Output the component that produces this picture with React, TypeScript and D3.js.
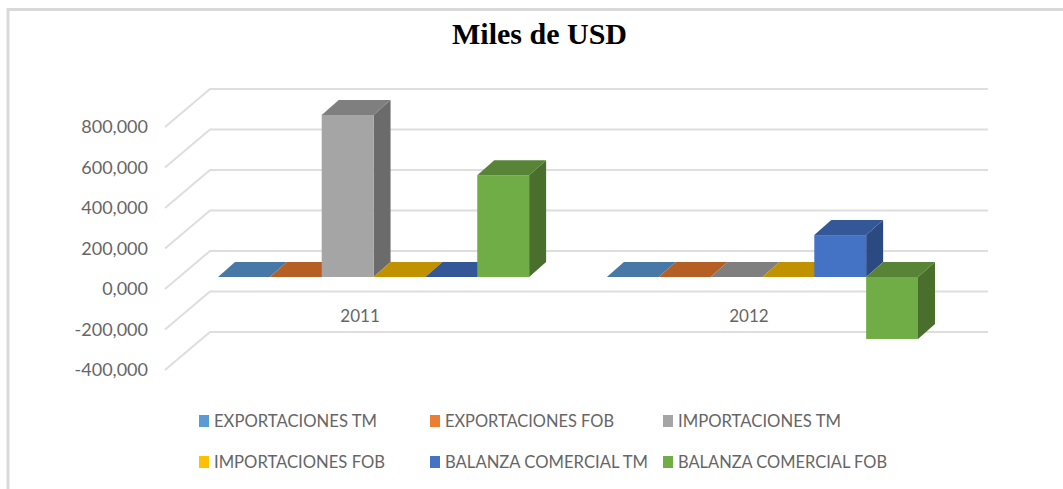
import React from "react";
import * as d3 from "d3";

const categories = ["2011", "2012"];
const seriesNames = [
  "EXPORTACIONES TM",
  "EXPORTACIONES FOB",
  "IMPORTACIONES TM",
  "IMPORTACIONES FOB",
  "BALANZA COMERCIAL TM",
  "BALANZA COMERCIAL FOB",
];
const values2011 = [0, 0, 800, 0, 0, 503];
const values2012 = [0, 0, 0, 0, 207, -306];
const yTicks = [800, 600, 400, 200, 0, -200, -400];
const faceColors = ["#5B9BD5", "#ED7D31", "#A5A5A5", "#FFC000", "#4472C4", "#70AD47"];
const topColors = ["#4878A6", "#B55F24", "#7F7F7F", "#C09200", "#335797", "#578437"];
const sideColors = ["#3E6A94", "#A4541F", "#6B6B6B", "#A67E00", "#2B4A82", "#4A6F2C"];

const W = 1063;
const H = 489;
const wallDx = 45;
const wallDy = -38;
const barDx = 17;
const barDy = -15;
const gridLeft = 165;
const gridRight = 988;
const labelFont = "Lato, 'Open Sans', sans-serif";

const fmt = (v: number) => `${v < 0 ? "-" : ""}${Math.abs(v)},000`;

function poly(pts: [number, number][]) {
  return d3.line()(pts) + "Z";
}

// category blocks across the chart
const xCat = d3.scaleBand().domain(categories).range([218, 918]).paddingInner(0.2);
// front plane of the bars, zero sits at y=277
const yBar = d3.scaleLinear().domain([0, 800]).range([277, 115]);
// front edge of the left wall
const yAxis = d3.scaleLinear().domain([800, -400]).range([127, 370]);

function Bars({ cat, values }: { cat: string; values: number[] }) {
  const start = xCat(cat) as number;
  const x = d3.scaleBand().domain(seriesNames).range([start, start + xCat.bandwidth()]);
  const w = x.bandwidth();
  return (
    <g>
      {values.map((v, i) => {
        const x0 = x(seriesNames[i]) as number;
        const x1 = x0 + w;
        const top = v >= 0 ? yBar(v) : yBar(0);
        const bot = v >= 0 ? yBar(0) : yBar(v);
        return (
          <g key={seriesNames[i]}>
            {bot > top && (
              <path
                d={poly([[x1, top], [x1 + barDx, top + barDy], [x1 + barDx, bot + barDy], [x1, bot]])}
                fill={sideColors[i]}
              />
            )}
            <path
              d={poly([[x0, top], [x0 + barDx, top + barDy], [x1 + barDx, top + barDy], [x1, top]])}
              fill={topColors[i]}
            />
            {bot > top && <rect x={x0} y={top} width={w} height={bot - top} fill={faceColors[i]} />}
          </g>
        );
      })}
    </g>
  );
}

export default function App() {
  const legendRows = d3.range(0, seriesNames.length, 3).map((s) => seriesNames.slice(s, s + 3));
  const legendX = [199, 430, 663];
  const legendText = [
    [163, 169, 163],
    [171, 203, 209],
  ];
  return (
    <svg
      width={W}
      height={H}
      viewBox={`0 0 ${W} ${H}`}
      style={{ position: "absolute", left: 0, top: 0, background: "#fff" }}
    >
      <path d={`M8,${H} V9.5 H${W}`} fill="none" stroke="#D9D9D9" strokeWidth={3} />
      <text
        x={539.5}
        y={44}
        textAnchor="middle"
        fontFamily="'Liberation Serif', serif"
        fontWeight="bold"
        fontSize={30}
        fill="#000"
      >
        Miles de USD
      </text>

      {yTicks.map((t) => {
        const yy = yAxis(t);
        return (
          <g key={t}>
            <path
              d={`M${gridLeft},${yy} L${gridLeft + wallDx},${yy + wallDy} H${gridRight}`}
              fill="none"
              stroke="#DEDEDE"
              strokeWidth={2}
            />
            <text
              x={148}
              y={yy + 6}
              textAnchor="end"
              fontFamily={labelFont}
              fontSize={18}
              fill="#666"
            >
              {fmt(t)}
            </text>
          </g>
        );
      })}

      <Bars cat="2011" values={values2011} />
      <Bars cat="2012" values={values2012} />

      {categories.map((c) => (
        <text
          key={c}
          x={(xCat(c) as number) + xCat.bandwidth() / 2 - 13.5}
          y={322}
          textAnchor="middle"
          fontFamily={labelFont}
          fontSize={17}
          fill="#666"
        >
          {c}
        </text>
      ))}

      {legendRows.map((row, r) =>
        row.map((name, c) => {
          const yy = 421 + r * 41;
          const idx = r * 3 + c;
          return (
            <g key={name}>
              <rect x={legendX[c]} y={yy - 6} width={10} height={12} fill={faceColors[idx]} />
              <text
                x={legendX[c] + 15}
                y={yy + 6}
                fontFamily={labelFont}
                fontSize={18}
                fill="#666"
                textLength={legendText[r][c]}
                lengthAdjust="spacingAndGlyphs"
              >
                {name}
              </text>
            </g>
          );
        })
      )}
    </svg>
  );
}
